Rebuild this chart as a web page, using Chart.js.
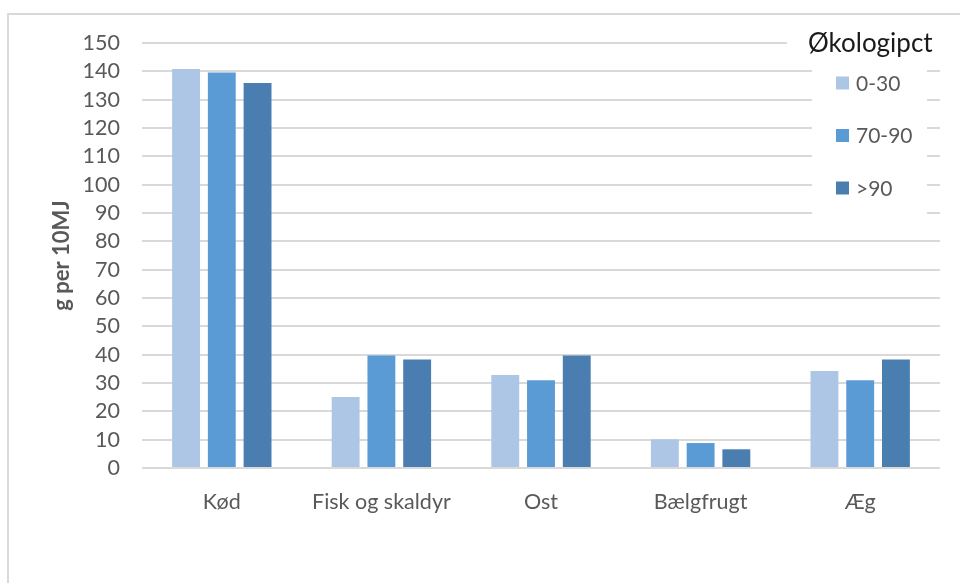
<!DOCTYPE html>
<html>
<head>
<meta charset="utf-8">
<script src="https://cdn.jsdelivr.net/npm/chart.js@4"></script>
<style>
  html, body { margin: 0; padding: 0; background: #fff; }
  canvas { display: block; }
</style>
</head>
<body>
<canvas id="chart" width="960" height="583"></canvas>
<script>
const categories = ['Kød', 'Fisk og skaldyr', 'Ost', 'Bælgfrugt', 'Æg'];
const seriesNames = ['0-30', '70-90', '>90'];
const pct0to30 = [140.8, 25.1, 32.8, 10.1, 34.2];
const pct70to90 = [139.6, 39.7, 31.0, 8.8, 31.0];
const pctOver90 = [135.9, 38.3, 39.7, 6.6, 38.3];
const seriesColors = ['#adc6e6', '#5b9bd5', '#4a7eb0'];
const legendTitle = 'Økologipct';
const axisTitle = 'g per 10MJ';

const textGray = '#595959';
const gridGray = '#d9d9d9';

Chart.defaults.font.family = 'Lato, "Open Sans", sans-serif';

// white page with the light grey frame around it
const frame = {
  id: 'frame',
  beforeDraw(chart) {
    const ctx = chart.ctx;
    ctx.save();
    ctx.fillStyle = '#fff';
    ctx.fillRect(0, 0, chart.width, chart.height);
    ctx.strokeStyle = gridGray;
    ctx.lineWidth = 2;
    ctx.strokeRect(8, 14, chart.width + 20, chart.height + 20);
    ctx.restore();
  }
};

// legend sits on top of the grid, upper right corner
const sideLegend = {
  id: 'sideLegend',
  afterDraw(chart) {
    const ctx = chart.ctx;
    ctx.save();
    ctx.fillStyle = '#fff';
    ctx.fillRect(787, 16, 173, 42);
    ctx.fillRect(812, 58, 115, 162);

    ctx.fillStyle = '#1a1a1a';
    ctx.font = '26px Lato';
    ctx.textBaseline = 'alphabetic';
    ctx.textAlign = 'left';
    ctx.fillText(legendTitle, 808, 52);

    ctx.font = '21px Lato';
    ctx.textBaseline = 'middle';
    chart.data.datasets.forEach((ds, i) => {
      const y = 83 + i * 52.5;
      ctx.fillStyle = ds.backgroundColor;
      ctx.fillRect(836, y - 6.5, 13, 13);
      ctx.fillStyle = textGray;
      ctx.fillText(ds.label, 856, y + 1);
    });
    ctx.restore();
  }
};

const ctx = document.getElementById('chart').getContext('2d');
new Chart(ctx, {
  type: 'bar',
  data: {
    labels: categories,
    datasets: [pct0to30, pct70to90, pctOver90].map((values, i) => ({
      label: seriesNames[i],
      data: values,
      backgroundColor: seriesColors[i],
      borderWidth: 0,
      categoryPercentage: 0.672,
      barPercentage: 0.78
    }))
  },
  options: {
    responsive: false,
    animation: false,
    layout: { padding: { top: 43, right: 20, left: 0, bottom: 0 } },
    plugins: {
      legend: { display: false },
      tooltip: { enabled: false }
    },
    scales: {
      x: {
        grid: { display: false },
        border: { display: false },
        ticks: { color: textGray, font: { size: 21.5 }, padding: 13, maxRotation: 0, autoSkip: false },
        afterFit(scale) { scale.height = 115; }
      },
      y: {
        min: 0,
        max: 150,
        ticks: { stepSize: 10, color: textGray, font: { size: 21.5 }, padding: 22, autoSkip: false },
        grid: { color: gridGray, lineWidth: 2, drawTicks: false },
        border: { display: false },
        title: {
          display: true,
          text: axisTitle,
          color: textGray,
          font: { size: 22, weight: 'bold' },
          padding: { top: 49, bottom: 0 }
        },
        afterFit(scale) { scale.width = 142; }
      }
    }
  },
  plugins: [frame, sideLegend]
});
</script>
</body>
</html>
